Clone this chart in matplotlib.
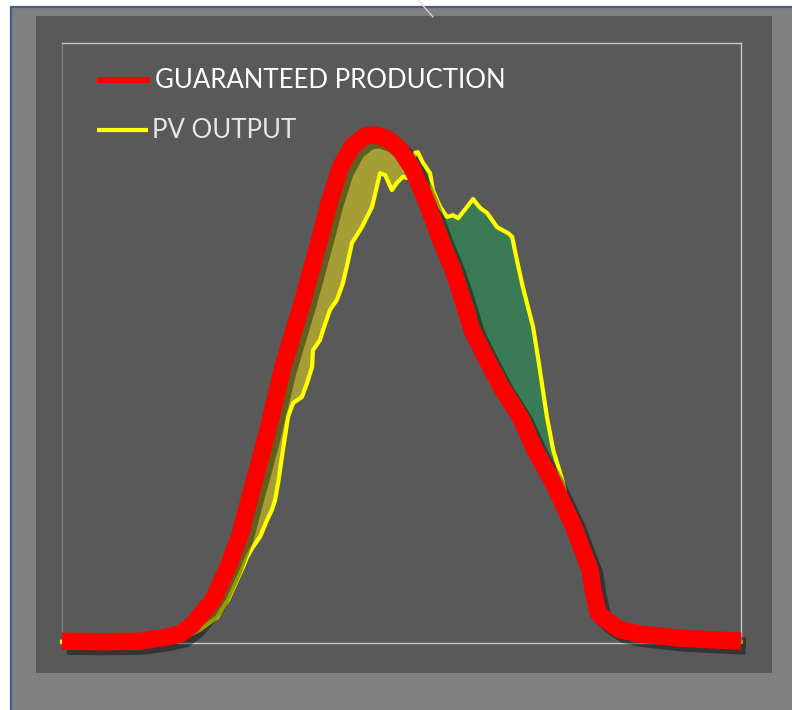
import numpy as np
import matplotlib.pyplot as plt
import matplotlib.patheffects as pe
from matplotlib.patches import Rectangle
from matplotlib.lines import Line2D

###############################################################################
# Daily production profile (hour of day, % of peak)
###############################################################################
guaranteed_hour = [0.00, 1.34, 2.76, 3.71, 4.17, 4.60, 5.34, 5.87, 6.29, 6.61,
                   6.93, 7.25, 7.81, 8.52, 9.05, 9.47, 9.83, 10.25, 10.71, 11.06,
                   11.52, 11.95, 12.37, 12.83, 13.36, 13.82, 14.17, 14.49, 14.88,
                   15.48, 16.19, 16.72, 17.36, 18.06, 18.66, 18.77, 18.95, 19.23,
                   19.72, 20.43, 21.84, 24.00]
guaranteed_pct = [0.3, 0.2, 0.3, 1.0, 1.5, 3.0, 7.2, 12.7, 18.0, 23.8,
                  29.3, 35.0, 46.0, 57.2, 66.3, 73.8, 79.2, 82.8, 84.5, 84.7,
                  84.0, 82.2, 79.2, 74.2, 67.5, 62.2, 57.2, 52.2, 48.5,
                  43.0, 37.7, 32.2, 26.7, 19.7, 12.2, 8.8, 5.0, 3.8,
                  2.2, 1.5, 0.8, 0.3]

pv_hour = [0.00, 3.11, 4.35, 4.88, 5.48, 5.87, 6.40, 6.54, 6.72, 7.00,
           7.25, 7.42, 7.53, 7.64, 7.81, 7.99, 8.17, 8.48, 8.66, 8.84,
           8.87, 9.12, 9.23, 9.47, 9.72, 9.93, 10.08, 10.25, 10.36, 10.60,
           10.96, 11.24, 11.42, 11.66, 11.84, 12.05, 12.19, 12.37, 12.48, 12.58,
           12.76, 13.01, 13.11, 13.36, 13.61, 13.82, 14.00, 14.32, 14.53, 14.78,
           15.02, 15.38, 15.77, 15.91, 16.08, 16.29, 16.65, 16.82, 17.14, 17.36,
           17.71, 17.96, 18.20, 18.59, 18.95, 19.72, 21.14, 24.00]
pv_pct = [0.2, 0.2, 1.0, 2.2, 4.3, 7.2, 12.7, 14.3, 15.8, 17.7,
          20.5, 22.2, 23.8, 26.7, 32.2, 37.7, 40.0, 41.0, 43.3, 46.0,
          48.8, 50.5, 52.2, 55.5, 57.2, 60.0, 63.0, 66.7, 67.5, 69.3,
          72.7, 78.3, 78.0, 75.5, 76.7, 77.7, 77.5, 79.7, 81.7, 81.8,
          80.0, 78.3, 75.5, 72.7, 71.0, 71.3, 70.8, 72.7, 74.0, 72.5,
          71.7, 69.3, 68.3, 67.7, 63.8, 59.3, 52.7, 47.7, 37.7, 32.2,
          26.7, 21.0, 17.7, 13.0, 6.3, 2.2, 0.8, 0.2]

crossover_hour = 12.37   # PV output overtakes the guaranteed curve here
fill_start, fill_end = 4.3, 18.6

W, H = 792, 710


def fx(px):
    return px / W


def fy(py):
    return 1 - py / H


fig = plt.figure(figsize=(W / 100, H / 100), dpi=100, facecolor='white')

# slide-style frames behind the chart
fig.add_artist(Rectangle((fx(11), fy(715)), (W - 5) / W, 708 / H, transform=fig.transFigure,
                         facecolor='#808080', edgecolor='#4a5a8c', linewidth=1.6, zorder=-2))
fig.add_artist(Rectangle((fx(36), fy(673)), (772 - 36) / W, (673 - 16) / H,
                         transform=fig.transFigure, facecolor='#595959', edgecolor='none',
                         zorder=-1))
fig.add_artist(Line2D([fx(418), fx(433)], [fy(0), fy(17)], transform=fig.transFigure,
                      color='#d8d8d8', linewidth=0.9, zorder=-1))

ax = fig.add_axes([fx(62), fy(643), (741 - 62) / W, 600 / H])
ax.set_facecolor('#595959')
ax.set_xlim(0, 24)
ax.set_ylim(0, 100)
ax.set_xticks([])
ax.set_yticks([])
for side in ['top', 'right', 'bottom']:
    ax.spines[side].set_color('#c8c8c8')
    ax.spines[side].set_linewidth(1.0)
ax.spines['left'].set_color('#7a7a7a')
ax.spines['left'].set_linewidth(1.0)

g_h = np.array(guaranteed_hour)
g_p = np.array(guaranteed_pct)
pv_h = np.array(pv_hour)
pv_p = np.array(pv_pct)

# shortfall: guaranteed above PV output
g_mask = (g_h >= fill_start) & (g_h <= crossover_hour)
pv_mask = (pv_h >= fill_start) & (pv_h <= crossover_hour)
ax.fill(np.concatenate([g_h[g_mask], pv_h[pv_mask][::-1]]),
        np.concatenate([g_p[g_mask], pv_p[pv_mask][::-1]]),
        color='#a59e34', linewidth=0, zorder=2)

# surplus: PV output above guaranteed
g_mask = (g_h >= crossover_hour) & (g_h <= fill_end)
pv_mask = (pv_h >= crossover_hour) & (pv_h <= fill_end)
ax.fill(np.concatenate([pv_h[pv_mask], g_h[g_mask][::-1]]),
        np.concatenate([pv_p[pv_mask], g_p[g_mask][::-1]]),
        color='#3a7a55', linewidth=0, zorder=2)

ax.plot(pv_h, pv_p, color='#ffff00', linewidth=3.0, zorder=3,
        solid_joinstyle='round', clip_on=False)
ax.plot(g_h, g_p, color='#ff0000', linewidth=12.5, zorder=4,
        solid_capstyle='butt', solid_joinstyle='round', clip_on=False,
        path_effects=[pe.SimpleLineShadow(offset=(3.5, -3.5), shadow_color='black', alpha=0.4),
                      pe.Normal()])

# legend
fig.add_artist(Line2D([fx(97), fx(150)], [fy(80), fy(80)], transform=fig.transFigure,
                      color='#ff0000', linewidth=4.3, solid_capstyle='butt'))
fig.add_artist(Line2D([fx(97), fx(148)], [fy(130), fy(130)], transform=fig.transFigure,
                      color='#ffff00', linewidth=3.0, solid_capstyle='butt'))
fig.text(fx(155), fy(80), 'GUARANTEED PRODUCTION', color='white', fontsize=18.5,
         family='Lato', va='center', ha='left')
fig.text(fx(152), fy(130), 'PV OUTPUT', color='#e6e6e6', fontsize=18.5,
         family='Lato', va='center', ha='left')

fig.savefig('out.png', dpi=100, facecolor='white')
